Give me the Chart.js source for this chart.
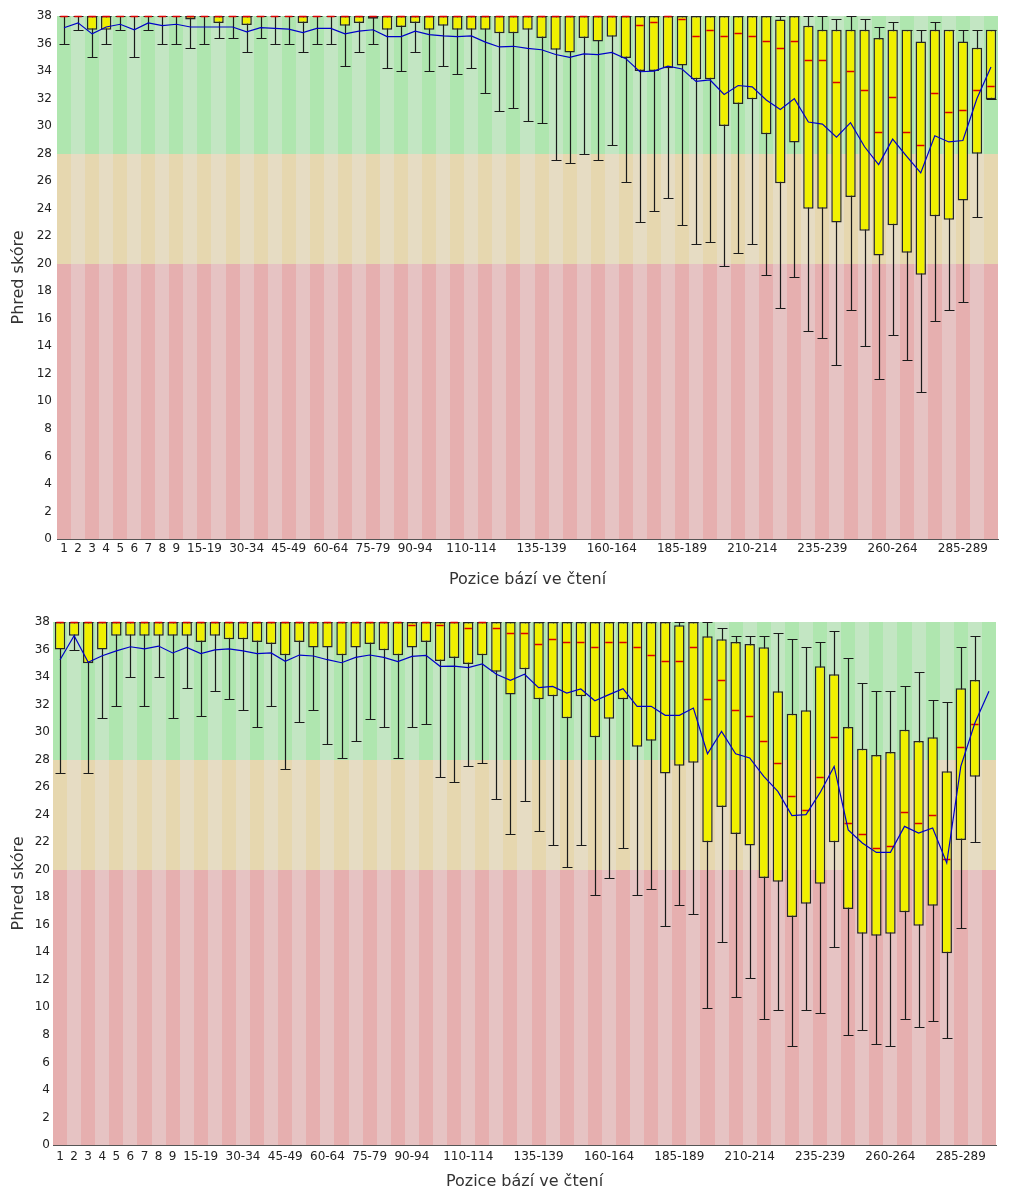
<!DOCTYPE html>
<html>
<head>
<meta charset="utf-8">
<script src="https://cdn.jsdelivr.net/npm/chart.js@4.4.1/dist/chart.umd.min.js"></script>
<style>
  html, body { margin: 0; padding: 0; background: #fff; }
  canvas { display: block; }
</style>
</head>
<body>
<canvas id="read1" width="1024" height="600"></canvas>
<canvas id="read2" width="1024" height="591"></canvas>
<script>
// Kvalita bází po pozicích (dva soubory čtení, styl FastQC)
const CATEGORIES = ['1', '2', '3', '4', '5', '6', '7', '8', '9',
  '10-14', '15-19', '20-24', '25-29', '30-34', '35-39', '40-44', '45-49', '50-54', '55-59',
  '60-64', '65-69', '70-74', '75-79', '80-84', '85-89', '90-94', '95-99', '100-104', '105-109',
  '110-114', '115-119', '120-124', '125-129', '130-134', '135-139', '140-144', '145-149', '150-154', '155-159',
  '160-164', '165-169', '170-174', '175-179', '180-184', '185-189', '190-194', '195-199', '200-204', '205-209',
  '210-214', '215-219', '220-224', '225-229', '230-234', '235-239', '240-244', '245-249', '250-254', '255-259',
  '260-264', '265-269', '270-274', '275-279', '280-284', '285-289', '290-294', '295-299'];

const SHOWN_TICKS = ['1', '2', '3', '4', '5', '6', '7', '8', '9', '15-19', '30-34', '45-49', '60-64',
  '75-79', '90-94', '110-114', '135-139', '160-164', '185-189', '210-214', '235-239', '260-264', '285-289'];

// čtení 1 (horní graf)
const R1_LOW = [36, 37, 35, 36, 37, 35, 37, 36, 36, 35.7, 36, 36.4, 36.4, 35.4, 36.4, 36, 36, 35.4, 36, 36,
  34.35, 35.4, 36, 34.2, 34.0, 35.4, 34.0, 34.35, 33.75, 34.2, 32.4, 31.1, 31.35, 30.4, 30.2, 27.55, 27.35, 28.0, 27.55, 28.6,
  25.95, 23.0, 23.8, 24.8, 22.8, 21.4, 21.6, 19.8, 20.8, 21.4, 19.2, 16.8, 19.05, 15.1, 14.6, 12.65, 16.65, 14.05, 11.6, 14.85,
  13.0, 10.7, 15.85, 16.65, 17.25, 23.4, 31.95];
const R1_Q1 = [38, 38, 37, 37, 38, 38, 38, 38, 38, 37.75, 38, 37.5, 38, 37.35, 38, 38, 38, 37.5, 38, 38,
  37.3, 37.5, 37.8, 37, 37.2, 37.5, 37, 37.3, 37, 37, 37, 36.75, 36.75, 37, 36.4, 35.55, 35.35, 36.4, 36.15, 36.5,
  34.95, 34.0, 34.0, 34.2, 34.4, 33.4, 33.4, 30.0, 31.6, 31.95, 29.4, 25.84, 28.8, 24.0, 24.0, 23.0, 24.85, 22.4, 20.6, 22.8,
  20.8, 19.2, 23.45, 23.2, 24.6, 28.0, 31.95];
const R1_MEDIAN = [38, 38, 38, 38, 38, 38, 38, 38, 38, 38, 38, 38, 38, 38, 38, 38, 38, 38, 38, 38,
  38, 38, 38, 38, 38, 38, 38, 38, 38, 38, 38, 38, 38, 38, 38, 38, 38, 38, 38, 38,
  38, 37.35, 37.55, 38, 37.75, 36.55, 37, 36.55, 36.75, 36.55, 36.15, 35.7, 36.15, 34.8, 34.8, 33.2, 34.0, 32.6, 29.6, 32.15,
  29.6, 28.6, 32.4, 31.0, 31.15, 32.6, 32.95];
const R1_Q3 = [38, 38, 38, 38, 38, 38, 38, 38, 38, 38, 38, 38, 38, 38, 38, 38, 38, 38, 38, 38,
  38, 38, 38, 38, 38, 38, 38, 38, 38, 38, 38, 38, 38, 38, 38, 38, 38, 38, 38, 38,
  38, 38, 38, 38, 38, 38, 38, 38, 38, 38, 38, 37.75, 38, 37.3, 37, 37, 37, 37, 36.4, 37,
  37, 36.15, 37, 37, 36.15, 35.7, 37];
const R1_HIGH = [38, 38, 38, 38, 38, 38, 38, 38, 38, 38, 38, 38, 38, 38, 38, 38, 38, 38, 38, 38,
  38, 38, 38, 38, 38, 38, 38, 38, 38, 38, 38, 38, 38, 38, 38, 38, 38, 38, 38, 38,
  38, 38, 38, 38, 38, 38, 38, 38, 38, 38, 38, 38, 38, 38, 38, 37.75, 38, 37.75, 37.2, 37.55,
  37, 37, 37.55, 37, 37, 37, 37];
const R1_MEAN = [37.15, 37.5, 36.7, 37.2, 37.4, 37.0, 37.5, 37.3, 37.4, 37.2, 37.2, 37.2, 37.2, 36.85, 37.15, 37.1, 37.05, 36.8, 37.1, 37.1,
  36.7, 36.9, 37.0, 36.5, 36.5, 36.9, 36.65, 36.55, 36.5, 36.55, 36.1, 35.75, 35.8, 35.65, 35.55, 35.2, 35.0, 35.25, 35.2, 35.35,
  34.9, 33.95, 34.0, 34.35, 34.15, 33.25, 33.35, 32.3, 32.95, 32.85, 31.9, 31.2, 32.0, 30.3, 30.15, 29.2, 30.25, 28.5, 27.2, 29.05,
  27.8, 26.6, 29.3, 28.85, 28.95, 32.0, 34.3];

// čtení 2 (dolní graf)
const R2_LOW = [27, 36, 27, 31, 31.9, 34, 31.9, 34, 31, 33.2, 31.15, 32.98, 32.4, 31.6, 30.4, 31.9, 27.3, 30.75, 31.6, 29.15,
  28.14, 29.35, 30.97, 30.4, 28.14, 30.4, 30.56, 26.76, 26.35, 27.56, 27.78, 25.14, 22.6, 25.0, 22.79, 21.77, 20.17, 21.77, 18.18, 19.4,
  21.58, 18.18, 18.57, 15.93, 17.41, 16.76, 9.93, 14.77, 10.75, 12.15, 9.15, 9.78, 7.16, 9.78, 9.58, 14.38, 7.96, 8.32, 7.35, 7.16,
  9.15, 8.57, 8.98, 7.74, 15.76, 22.0, null];
const R2_Q1 = [36, 37, 35, 36, 37, 37, 37, 37, 37, 37, 36.55, 37, 36.75, 36.75, 36.55, 36.4, 35.58, 36.55, 36.15, 36.15,
  35.58, 36.15, 36.4, 35.94, 35.58, 36.15, 36.55, 35.17, 35.38, 34.95, 35.58, 34.39, 32.74, 34.56, 32.38, 32.6, 31.0, 32.6, 29.62, 30.97,
  32.38, 28.94, 29.38, 27.0, 27.56, 27.78, 22.0, 24.56, 22.6, 21.77, 19.4, 19.13, 16.56, 17.53, 18.98, 22.0, 17.14, 15.35, 15.2, 15.35,
  16.92, 15.93, 17.38, 13.94, 22.16, 26.76, null];
const R2_MEDIAN = [38, 38, 38, 38, 38, 38, 38, 38, 38, 38, 38, 38, 38, 38, 38, 38, 38, 38, 38, 38,
  38, 38, 38, 38, 38, 37.76, 38, 37.76, 38, 37.56, 38, 37.56, 37.2, 37.2, 36.4, 36.74, 36.55, 36.55, 36.16, 36.55,
  36.55, 36.16, 35.6, 35.17, 35.17, 36.16, 32.38, 33.78, 31.6, 31.14, 29.35, 27.78, 25.33, 24.31, 26.76, 29.62, 23.39, 22.6, 21.58, 21.75,
  24.19, 23.39, 23.97, 20.75, 28.94, 30.56, null];
const R2_Q3 = [38, 38, 38, 38, 38, 38, 38, 38, 38, 38, 38, 38, 38, 38, 38, 38, 38, 38, 38, 38,
  38, 38, 38, 38, 38, 38, 38, 38, 38, 38, 38, 38, 38, 38, 38, 38, 38, 38, 38, 38,
  38, 38, 38, 38, 37.76, 38, 36.96, 36.74, 36.55, 36.4, 36.16, 32.96, 31.34, 31.58, 34.78, 34.2, 30.37, 28.79, 28.33, 28.55,
  30.18, 29.35, 29.62, 27.15, 33.18, 33.78, null];
const R2_HIGH = [38, 38, 38, 38, 38, 38, 38, 38, 38, 38, 38, 38, 38, 38, 38, 38, 38, 38, 38, 38,
  38, 38, 38, 38, 38, 38, 38, 38, 38, 38, 38, 38, 38, 38, 38, 38, 38, 38, 38, 38,
  38, 38, 38, 38, 38, 38, 38, 37.56, 37.0, 37.0, 37.0, 37.2, 36.74, 36.16, 36.55, 37.35, 35.38, 33.54, 32.96, 32.96,
  33.37, 34.37, 32.36, 32.16, 36.16, 37.0, null];
const R2_MEAN = [35.26, 37.0, 35.07, 35.55, 35.9, 36.2, 36.05, 36.25, 35.75, 36.15, 35.7, 35.97, 36.05, 35.9, 35.7, 35.75, 35.15, 35.6, 35.53, 35.26,
  35.04, 35.43, 35.6, 35.43, 35.12, 35.5, 35.58, 34.78, 34.8, 34.68, 34.95, 34.2, 33.76, 34.2, 33.23, 33.32, 32.84, 33.13, 32.28, 32.72,
  33.16, 31.87, 31.87, 31.22, 31.22, 31.75, 28.43, 30.05, 28.43, 28.12, 26.78, 25.69, 23.93, 24.0, 25.6, 27.51, 22.9, 21.94, 21.26, 21.26,
  23.15, 22.67, 23.03, 20.49, 27.51, 30.66, 32.96];

const BANDS = [
  { from: 28, to: 38, dark: 'rgb(175,230,175)', light: 'rgb(195,230,195)' },
  { from: 20, to: 28, dark: 'rgb(230,215,175)', light: 'rgb(230,220,195)' },
  { from: 0, to: 20, dark: 'rgb(230,175,175)', light: 'rgb(230,195,195)' },
];
const BOX_FRACTION = 0.74;
const FONT = "'DejaVu Sans', sans-serif";

const fastqcPlugin = {
  id: 'fastqc',
  beforeDatasetsDraw(chart, args, opts) {
    const { ctx, scales: { x, y } } = chart;
    const n = chart.data.labels.length;
    const step = x.getPixelForValue(1) - x.getPixelForValue(0);
    ctx.save();
    for (const band of BANDS) {
      const top = Math.round(y.getPixelForValue(band.to));
      const bottom = Math.round(y.getPixelForValue(band.from));
      for (let i = 0; i < n; i++) {
        const x0 = Math.round(x.getPixelForValue(i) - step / 2);
        const x1 = Math.round(x.getPixelForValue(i) + step / 2);
        ctx.fillStyle = i % 2 === 0 ? band.dark : band.light;
        ctx.fillRect(x0, top, x1 - x0, bottom - top);
      }
    }
    // vousy (10. a 90. percentil)
    const half = Math.round(step * BOX_FRACTION / 2);
    ctx.strokeStyle = '#1a1a1a';
    ctx.lineWidth = 1.2;
    opts.low.forEach((lo, i) => {
      const hi = opts.high[i];
      if (lo == null || hi == null) return;
      const cx = Math.round(x.getPixelForValue(i)) + 0.5;
      const yl = Math.round(y.getPixelForValue(lo)) + 0.5;
      const yh = Math.round(y.getPixelForValue(hi)) + 0.5;
      ctx.beginPath();
      ctx.moveTo(cx, yl); ctx.lineTo(cx, yh);
      ctx.moveTo(cx - half, yl); ctx.lineTo(cx + half, yl);
      ctx.moveTo(cx - half, yh); ctx.lineTo(cx + half, yh);
      ctx.stroke();
    });
    ctx.restore();
  },
  afterDatasetDraw(chart, args, opts) {
    if (args.index !== 0) return;
    const { ctx, scales: { x, y } } = chart;
    const step = x.getPixelForValue(1) - x.getPixelForValue(0);
    const half = step * BOX_FRACTION / 2;
    ctx.save();
    ctx.strokeStyle = 'rgb(220,0,0)';
    ctx.lineWidth = 1.5;
    opts.median.forEach((m, i) => {
      if (m == null) return;
      const cx = x.getPixelForValue(i);
      const my = Math.round(y.getPixelForValue(m)) + 0.5;
      ctx.beginPath();
      ctx.moveTo(cx - half + 1.5, my);
      ctx.lineTo(cx + half - 1.5, my);
      ctx.stroke();
    });
    ctx.restore();
  },
};

function makeChart(id, data, layout) {
  const boxes = data.q1.map((v, i) => (v == null || v === data.q3[i]) ? null : [v, data.q3[i]]);
  return new Chart(document.getElementById(id), {
    type: 'bar',
    data: {
      labels: CATEGORIES,
      datasets: [
        {
          type: 'bar', data: boxes, order: 1,
          backgroundColor: 'rgb(240,240,0)', borderColor: '#262626', borderWidth: 1.5,
          borderSkipped: false, inflateAmount: 0,
          barPercentage: 1, categoryPercentage: BOX_FRACTION,
        },
        {
          type: 'line', data: data.mean, order: 0,
          borderColor: 'rgb(0,0,200)', borderWidth: 1.2, pointRadius: 0, tension: 0, fill: false,
        },
      ],
    },
    options: {
      responsive: false,
      devicePixelRatio: 1,
      animation: false,
      layout: { padding: { top: layout.top, right: layout.right, left: 0, bottom: 0 } },
      plugins: {
        legend: { display: false },
        tooltip: { enabled: false },
        fastqc: { low: data.low, high: data.high, median: data.median },
      },
      scales: {
        x: {
          offset: true,
          grid: { display: false, drawTicks: false },
          border: { display: true, color: '#555', width: 1 },
          ticks: {
            autoSkip: false, maxRotation: 0, minRotation: 0, padding: layout.tickPad,
            color: '#222', font: { family: FONT, size: 12 },
            callback: (v, i) => (SHOWN_TICKS.includes(CATEGORIES[i]) ? CATEGORIES[i] : ''),
          },
          title: {
            display: true, text: 'Pozice bází ve čtení', color: '#333',
            font: { family: FONT, size: 16 }, padding: { top: 0, bottom: layout.titlePad },
          },
          afterFit: (scale) => { scale.height = layout.xHeight; },
        },
        y: {
          min: 0, max: 38,
          grid: { display: false, drawTicks: false },
          border: { display: true, color: '#555', width: 1 },
          ticks: { stepSize: 2, padding: layout.yPad, color: '#222', font: { family: FONT, size: 12 } },
          title: {
            display: true, text: 'Phred skóre', color: '#333',
            font: { family: FONT, size: 16 }, padding: { top: 9, bottom: 0 },
          },
          afterFit: (scale) => { scale.width = layout.yWidth; },
        },
      },
    },
    plugins: [fastqcPlugin],
  });
}

makeChart('read1',
  { low: R1_LOW, q1: R1_Q1, median: R1_MEDIAN, q3: R1_Q3, high: R1_HIGH, mean: R1_MEAN },
  { top: 16, right: 26, yWidth: 57, xHeight: 61, tickPad: 3, titlePad: 11, yPad: 5 });

makeChart('read2',
  { low: R2_LOW, q1: R2_Q1, median: R2_MEDIAN, q3: R2_Q3, high: R2_HIGH, mean: R2_MEAN },
  { top: 22, right: 28, yWidth: 53, xHeight: 46, tickPad: 5, titlePad: 0, yPad: 3 });
</script>
</body>
</html>
